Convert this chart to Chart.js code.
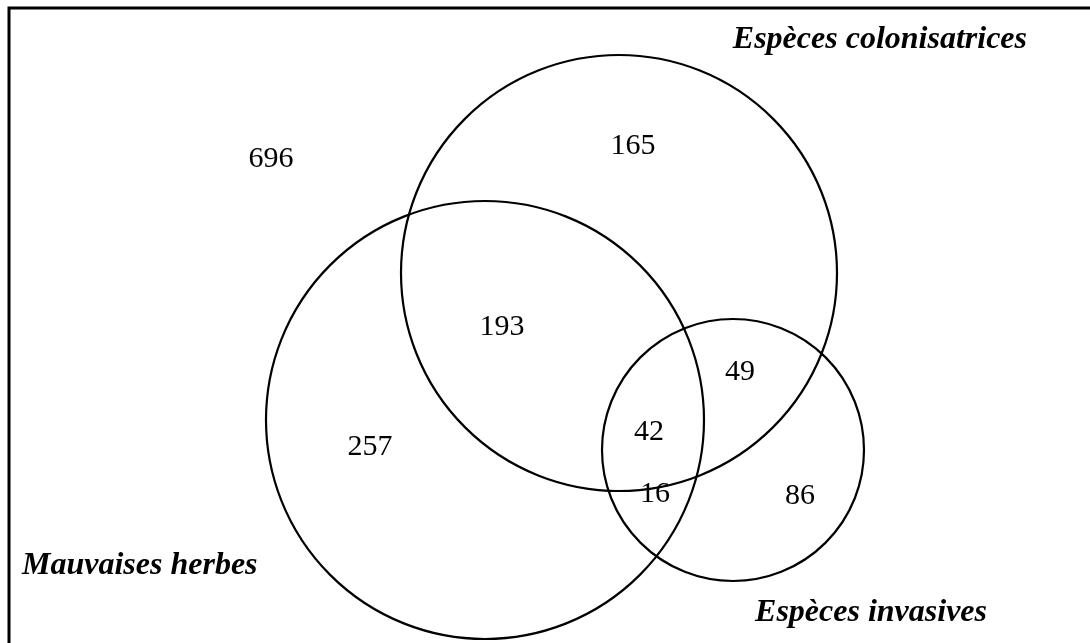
<!DOCTYPE html>
<html>
<head>
<meta charset="utf-8">
<script src="https://cdn.jsdelivr.net/npm/chart.js@4/dist/chart.umd.min.js"></script>
<style>
  html, body { margin: 0; padding: 0; background: #fff; }
  canvas { display: block; }
</style>
</head>
<body>
<canvas id="venn" width="1090" height="643"></canvas>
<script>
// sets (circles), in picture units
const setNames = ['Espèces colonisatrices', 'Mauvaises herbes', 'Espèces invasives'];
const centerX = [619, 485, 733];
const centerY = [273, 420, 450];
const radius = [218, 219, 131];

// region counts and where they sit
const regionCounts = [696, 165, 193, 257, 49, 42, 16, 86];
const regionX = [271, 633, 502, 370, 740, 649, 655, 800];
const regionY = [159, 146, 327, 447, 372, 432, 494, 496];

// set titles
const titleX = [1027, 22, 987];
const titleY = [40, 566, 613];
const titleAlign = ['right', 'left', 'right'];

const serif = '"Liberation Serif", "Times New Roman", serif';

const frame = {
    id: 'frame',
    beforeDraw(chart) {
        const c = chart.ctx;
        c.save();
        c.fillStyle = '#fff';
        c.fillRect(0, 0, chart.width, chart.height);
        c.strokeStyle = '#000';
        c.lineWidth = 3;
        c.beginPath();
        c.moveTo(9, chart.height + 5);
        c.lineTo(9, 8);
        c.lineTo(chart.width + 5, 8);
        c.stroke();
        c.restore();
    }
};

const labels = {
    id: 'labels',
    afterDatasetsDraw(chart) {
        const c = chart.ctx;
        const x = chart.scales.x, y = chart.scales.y;
        c.save();
        c.fillStyle = '#000';
        c.textBaseline = 'middle';
        c.textAlign = 'center';
        c.font = '30px ' + serif;
        regionCounts.forEach((v, i) => {
            c.fillText(String(v), x.getPixelForValue(regionX[i]), y.getPixelForValue(regionY[i]));
        });
        c.font = 'italic bold 32px ' + serif;
        setNames.forEach((name, i) => {
            c.textAlign = titleAlign[i];
            c.fillText(name, x.getPixelForValue(titleX[i]), y.getPixelForValue(titleY[i]));
        });
        c.restore();
    }
};

new Chart(document.getElementById('venn'), {
    type: 'scatter',
    data: {
        labels: setNames,
        datasets: [{
            label: 'ensembles',
            data: centerX.map((cx, i) => ({ x: cx, y: centerY[i] })),
            pointRadius: (ctx) => {
                const s = ctx.chart.scales.x;
                return Math.abs(s.getPixelForValue(radius[ctx.dataIndex]) - s.getPixelForValue(0));
            },
            pointBackgroundColor: 'rgba(0,0,0,0)',
            pointBorderColor: '#000',
            pointBorderWidth: 2.2
        }]
    },
    options: {
        responsive: false,
        animation: false,
        events: [],
        layout: { padding: 0 },
        plugins: {
            legend: { display: false },
            tooltip: { enabled: false }
        },
        scales: {
            x: { type: 'linear', min: 0, max: 1090, display: false },
            y: { type: 'linear', min: 0, max: 643, reverse: true, display: false }
        }
    },
    plugins: [frame, labels]
});
</script>
</body>
</html>
